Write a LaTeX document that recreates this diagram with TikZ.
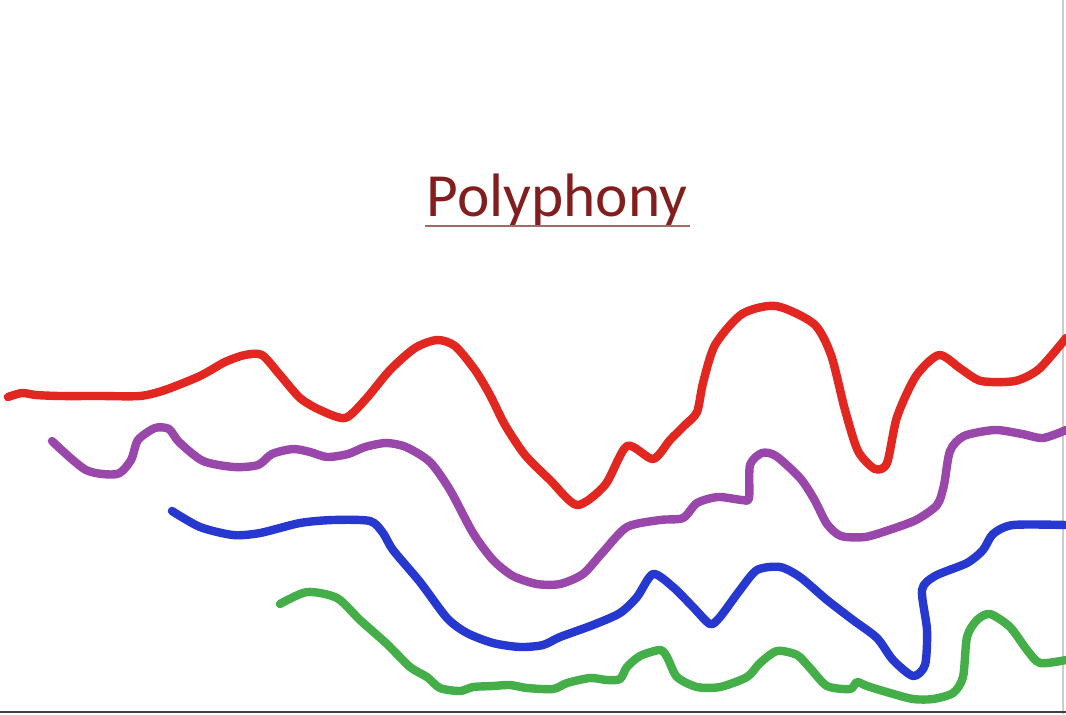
\documentclass[tikz,border=0pt]{standalone}
\usepackage{fontspec}
\setmainfont{Carlito}
\definecolor{cred}{RGB}{226,38,32}
\definecolor{cpurple}{RGB}{153,71,170}
\definecolor{cblue}{RGB}{38,56,208}
\definecolor{cgreen}{RGB}{68,174,72}
\definecolor{ctitle}{RGB}{130,30,30}
\definecolor{cunder}{RGB}{165,105,105}
\begin{document}
\begin{tikzpicture}[x=0.75pt,y=-0.75pt,
  voice/.style={line width=6.3pt,line cap=round,line join=round},
  frame/.style={line width=1.5pt,draw=black!75}]
\useasboundingbox (0,0) rectangle (1066,714);
\fill[white] (0,0) rectangle (1066,714);
\draw[gray!40,line width=0.8pt] (1063,0) -- (1063,714);
\draw[frame] (0,712) -- (1066,712);
\node[text=ctitle,font=\fontsize{46}{50}\selectfont,anchor=base] (title) at (557,216) {Polyphony};
\draw[cunder,line width=2.2pt] (425,226) -- (690,226);
% red
\draw[voice,cred] plot[smooth,tension=0.45] coordinates {
(8,397) (22,393) (36,395) (60,396) (100,396) (140,396) (165,390) (200,376) (225,362) (245,355) (262,355)
(280,375) (300,398) (320,410) (345,418) (365,400) (390,370) (415,348) (437,340) (455,346) (475,370)
(490,395) (505,425) (525,455) (550,480) (577,505) (605,485) (627,446) (653,459) (670,440) (685,425) (697,412)
(703,383) (715,345) (742,314) (776,306) (814,324) (831,355) (845,410) (858,451) (875,469) (887,463)
(897,417) (916,376) (939,355) (961,369) (981,381) (1015,381) (1039,369) (1066,338)};
% purple
\draw[voice,cpurple] plot[smooth,tension=0.45] coordinates {
(52,441) (86,470) (117,474) (131,460) (138,440) (155,428) (169,429) (179,442) (203,461) (234,467)
(258,465) (272,454) (293,449) (310,452) (327,457) (348,454) (365,447) (386,443) (406,447) (430,462)
(450,490) (473,533) (493,560) (513,576) (537,584) (560,584) (583,574) (603,552) (627,527) (660,520)
(683,518) (697,503) (718,497) (742,500) (749,498) (750,465) (762,453) (776,456) (800,478) (814,499)
(827,524) (841,536) (865,537) (889,530) (916,520) (937,505) (944,485) (950,451) (964,436) (995,430)
(1022,434) (1043,438) (1066,430)};
% blue
\draw[voice,cblue] plot[smooth,tension=0.45] coordinates {
(172,511) (200,527) (233,535) (260,533) (300,523) (333,520) (370,521) (383,533) (393,550) (420,582)
(447,618) (467,633) (493,643) (520,647) (543,645) (560,637) (593,625) (620,613) (637,597) (653,574)
(673,587) (693,607) (710,624) (720,617) (740,590) (757,570) (780,567) (800,577) (827,600) (853,620)
(877,638) (893,660) (913,676) (925,665) (927,630) (922,590) (935,576) (967,563) (983,550) (993,534)
(1013,525) (1066,525)};
% green
\draw[voice,cgreen] plot[smooth,tension=0.45] coordinates {
(280,604) (307,592) (337,598) (360,620) (387,644) (410,667) (427,677) (440,688) (460,691) (473,687)
(493,686) (510,685) (527,688) (553,689) (567,683) (590,678) (607,680) (620,679) (627,667) (640,656)
(660,650) (667,657) (677,677) (697,687) (720,687) (747,677) (760,663) (777,651) (797,655) (810,668)
(827,686) (850,689) (857,682) (867,686) (890,693) (913,699) (933,699) (953,693) (963,677) (967,637)
(977,620) (990,614) (1010,627) (1027,650) (1040,663) (1066,660)};
\end{tikzpicture}
\end{document}
